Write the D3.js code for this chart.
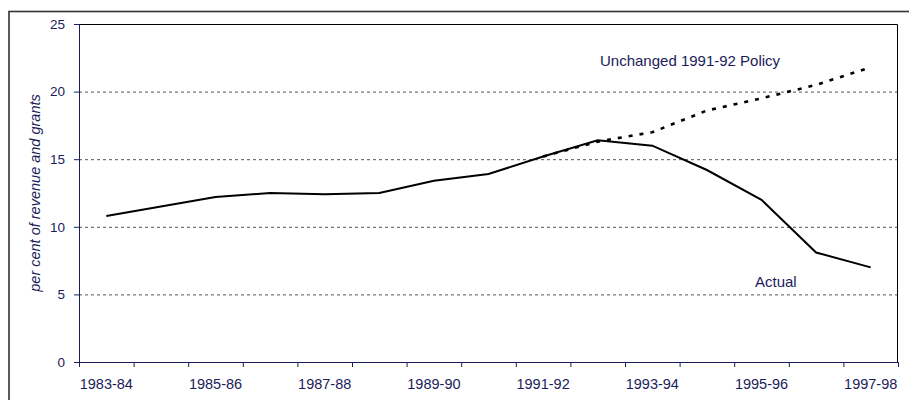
<!DOCTYPE html>
<html>
<head>
<meta charset="utf-8">
<script src="https://cdn.jsdelivr.net/npm/d3@7"></script>
<style>
  body { margin: 0; background: #fff; }
  svg { display: block; font-family: Arial, "Liberation Sans", sans-serif; }
</style>
</head>
<body>
<svg width="909" height="400"></svg>
<script>
// DATA

var years = ["1983-84", "1984-85", "1985-86", "1986-87", "1987-88", "1988-89", "1989-90",
             "1990-91", "1991-92", "1992-93", "1993-94", "1994-95", "1995-96", "1996-97", "1997-98"];
var actual = [10.8, 11.5, 12.2, 12.5, 12.4, 12.5, 13.4, 13.9, 15.2, 16.4, 16.0, 14.2, 12.0, 8.1, 7.0];
var policyYears = ["1991-92", "1992-93", "1993-94", "1994-95", "1995-96", "1996-97", "1997-98"];
var policy = [15.2, 16.3, 17.0, 18.6, 19.5, 20.5, 21.8];
var yTicks = [0, 5, 10, 15, 20, 25];
var xLabels = ["1983-84", "1985-86", "1987-88", "1989-90", "1991-92", "1993-94", "1995-96", "1997-98"];

// SETUP

var svg = d3.select("svg"),
    margin = { top: 24, right: 11, bottom: 38, left: 79 },
    width = 909 - margin.left - margin.right,
    height = 400 - margin.top - margin.bottom,
    navy = "#1c1c5a";

// outer chart border
svg.append("rect")
  .attr("x", 9).attr("y", 11.5)
  .attr("width", 1000).attr("height", 1000)
  .attr("fill", "none")
  .attr("stroke", "#333")
  .attr("stroke-width", 1.6);

var x = d3.scaleBand().domain(years).range([0, width]).padding(0),
    y = d3.scaleLinear().domain([0, 25]).range([height, 0]);

var g = svg.append("g")
  .attr("transform", "translate(" + margin.left + "," + margin.top + ")");

// gridlines
g.selectAll(".grid")
  .data(yTicks.filter(function (d) { return d > 0 && d < 25; }))
  .enter().append("line")
    .attr("class", "grid")
    .attr("x1", 0).attr("x2", width)
    .attr("y1", function (d) { return y(d) + 0.5; })
    .attr("y2", function (d) { return y(d) + 0.5; })
    .attr("stroke", "#555")
    .attr("stroke-dasharray", "3,3");

// plot border top and right
g.append("path")
  .attr("d", "M0,0.5H" + (width - 0.5) + "V" + height)
  .attr("fill", "none")
  .attr("stroke", "#000")
  .attr("stroke-width", 1);

// y axis
var yAxis = g.append("g")
  .attr("class", "axis axis--y")
  .call(d3.axisLeft(y).tickValues(yTicks).tickSize(5).tickPadding(9));

// x axis: ticks between categories, labels every other year
var xAxis = g.append("g")
  .attr("class", "axis axis--x")
  .attr("transform", "translate(0," + height + ")")
  .call(d3.axisBottom(x).tickValues(xLabels).tickSize(0).tickPadding(17));

xAxis.selectAll(".bound")
  .data(years.map(function (d) { return x(d); }).concat([width]))
  .enter().append("line")
    .attr("class", "bound")
    .attr("x1", function (d) { return d + 0.5; })
    .attr("x2", function (d) { return d + 0.5; })
    .attr("y1", 0).attr("y2", 5)
    .attr("stroke", navy);

svg.selectAll(".axis path, .axis line").attr("stroke", navy).attr("stroke-width", 1);
svg.selectAll(".axis text")
  .attr("fill", navy)
  .style("font-size", "13.5px")
  .style("font-family", "Arial, 'Liberation Sans', sans-serif");
xAxis.selectAll("text").style("font-size", "14.5px");

// lines
var cx = function (d) { return x(d) + x.bandwidth() / 2; };

var line = d3.line()
  .x(function (d) { return cx(d[0]); })
  .y(function (d) { return y(d[1]); });

g.append("path")
  .datum(d3.zip(policyYears, policy))
  .attr("d", line)
  .attr("fill", "none")
  .attr("stroke", "#000")
  .attr("stroke-width", 2.6)
  .attr("stroke-dasharray", "4,7");

g.append("path")
  .datum(d3.zip(years, actual))
  .attr("d", line)
  .attr("fill", "none")
  .attr("stroke", "#000")
  .attr("stroke-width", 2);

// labels
svg.append("text")
  .attr("x", 600).attr("y", 66)
  .attr("fill", navy)
  .style("font-size", "15px")
  .text("Unchanged 1991-92 Policy");

svg.append("text")
  .attr("x", 755).attr("y", 287)
  .attr("fill", navy)
  .style("font-size", "15px")
  .text("Actual");

svg.append("text")
  .attr("transform", "translate(40,193) rotate(-90)")
  .attr("text-anchor", "middle")
  .attr("fill", navy)
  .style("font-size", "14.5px")
  .style("font-style", "italic")
  .text("per cent of revenue and grants");
</script>
</body>
</html>
